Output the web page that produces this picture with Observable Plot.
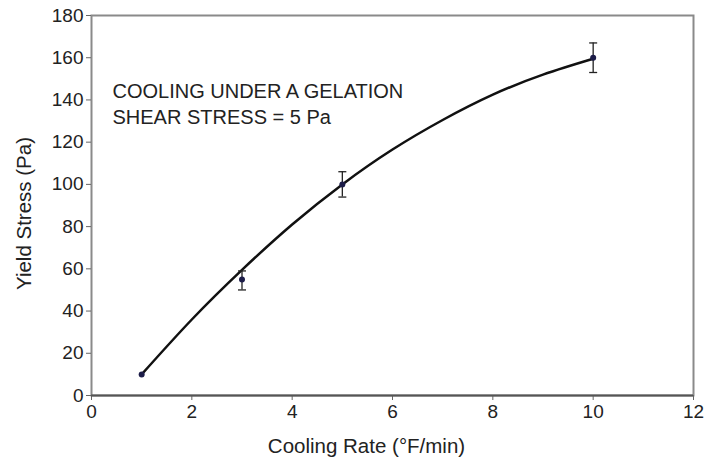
<!DOCTYPE html>
<html>
<head>
<meta charset="utf-8">
<script src="https://cdn.jsdelivr.net/npm/d3@7"></script>
<script src="https://cdn.jsdelivr.net/npm/@observablehq/plot@0.6"></script>
<style>
  html, body { margin: 0; padding: 0; background: #fff; }
  #chart svg { display: block; }
</style>
</head>
<body>
<div id="chart"></div>
<script>
// Measured points (cooling rate °F/min, yield stress Pa)
const rates = [1, 3, 5, 10];
const stress = [10, 55, 100, 160];
const errLow = [10, 50, 94, 153];
const errHigh = [10, 59, 106, 167];

// Fitted curve
const curveX = [1, 2, 3, 4, 5, 6, 7, 8, 9, 10];
const curveY = [10, 36, 59.5, 81, 100, 116.5, 130.5, 142.5, 152, 159.5];

const xTicks = [0, 2, 4, 6, 8, 10, 12];
const yTicks = [0, 20, 40, 60, 80, 100, 120, 140, 160, 180];

const xTitle = "Cooling Rate (°F/min)";
const yTitle = "Yield Stress (Pa)";
const annotation = "COOLING UNDER A GELATION\nSHEAR STRESS = 5 Pa";

const points = rates.map((x, i) => ({x, y: stress[i], lo: errLow[i], hi: errHigh[i]}));
const curve = curveX.map((x, i) => ({x, y: curveY[i]}));
const bars = points.filter(d => d.hi > d.lo);

const capSymbol = {
  draw(context, size) {
    const r = 4;
    context.moveTo(-r, 0);
    context.lineTo(r, 0);
  }
};

const font = "'Liberation Sans', Arial, sans-serif";

const chart = Plot.plot({
  width: 706,
  height: 461,
  marginLeft: 91,
  marginRight: 13,
  marginTop: 15,
  marginBottom: 66,
  style: {fontFamily: font, fontSize: "19px", color: "#222", background: "#fff"},
  x: {domain: [0, 12], ticks: xTicks, label: null},
  y: {domain: [0, 180], ticks: yTicks, label: null},
  marks: [
    Plot.frame({stroke: "#8a8a8a", strokeWidth: 2}),
    Plot.axisX({ticks: xTicks, tickSize: 5, tickPadding: 4, stroke: "#666", fill: "#222", fontSize: 19, label: null}),
    Plot.axisY({ticks: yTicks, tickSize: 5, tickPadding: 3, stroke: "#666", fill: "#222", fontSize: 19, label: null}),
    Plot.ruleY([0], {stroke: "#555", strokeWidth: 2}),
    Plot.line(curve, {x: "x", y: "y", curve: "natural", stroke: "#111", strokeWidth: 2.5}),
    Plot.ruleX(bars, {x: "x", y1: "lo", y2: "hi", stroke: "#222", strokeWidth: 1.3}),
    Plot.dot(bars, {x: "x", y: "lo", symbol: capSymbol, stroke: "#222", strokeWidth: 1.3}),
    Plot.dot(bars, {x: "x", y: "hi", symbol: capSymbol, stroke: "#222", strokeWidth: 1.3}),
    Plot.dot(points, {x: "x", y: "y", r: 3, fill: "#1c1c48", stroke: "none"}),
    Plot.text([annotation], {frameAnchor: "top-left", dx: 21, dy: 64, text: d => d, textAnchor: "start", lineAnchor: "top", lineHeight: 1.3, fontSize: 20, fill: "#222"}),
    Plot.text([xTitle], {frameAnchor: "bottom", dx: -26, dy: 51, text: d => d, textAnchor: "middle", lineAnchor: "middle", fontSize: 20.5, fill: "#222"}),
    Plot.text([yTitle], {frameAnchor: "left", dx: -67, dy: 8, rotate: -90, text: d => d, textAnchor: "middle", lineAnchor: "middle", fontSize: 20.5, fill: "#222"})
  ]
});
document.getElementById("chart").appendChild(chart);
</script>
</body>
</html>
